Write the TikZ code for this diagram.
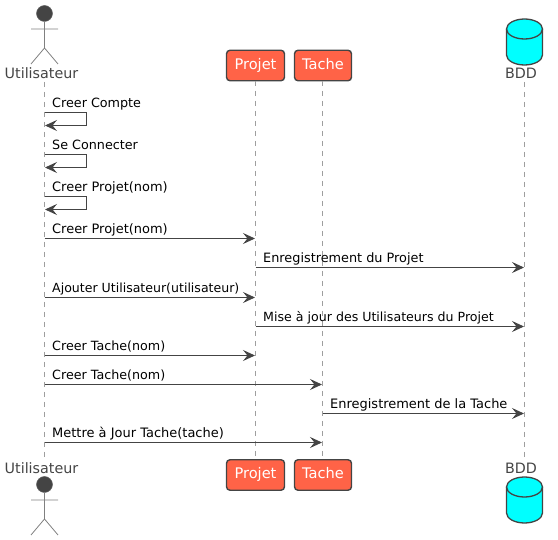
\documentclass[tikz,border=0pt]{standalone}
\usepackage{fontspec}
\setmainfont{DejaVu Sans}
\usetikzlibrary{arrows.meta}
\definecolor{ink}{HTML}{444444}
\definecolor{tomatofill}{HTML}{FF6347}
\definecolor{dbfill}{HTML}{00FFFF}
\tikzset{
  lifeline/.style={draw=black!38, line width=0.9pt, dash pattern=on 5pt off 5pt},
  partbox/.style={draw=ink, line width=1.4pt, fill=tomatofill, rounded corners=3.5pt, text=white, minimum height=30.5pt, inner sep=0pt, text height=10.5pt, text depth=3pt, font=\fontsize{14.6}{16}\selectfont},
  partlabel/.style={text=ink, inner sep=0pt, font=\fontsize{14.3}{16}\selectfont},
  msg/.style={draw=ink, line width=1pt, shorten >=0.5pt, -{Stealth[length=12pt,width=11pt,inset=4.5pt]}},
  msglabel/.style={text=black, inner sep=0pt, anchor=base west},
  stick/.style={draw=black!50, line width=0.8pt},
  actorhead/.style={circle, draw=black!60, line width=0.5pt, fill=ink, minimum size=16pt, inner sep=0pt},
  dbline/.style={draw=ink, line width=1.3pt},
}
\newcommand{\dbcyl}[1]{%
  \path[fill=dbfill] (506.5,#1+10) arc[x radius=18,y radius=10,start angle=180,end angle=360] -- (542.5,#1+36) arc[x radius=18,y radius=10,start angle=0,end angle=180] -- cycle;
  \draw[dbline] (506.5,#1+10) arc[x radius=18,y radius=10,start angle=180,end angle=-180];
  \draw[dbline] (506.5,#1+10) -- (506.5,#1+36) arc[x radius=18,y radius=10,start angle=180,end angle=0] -- (542.5,#1+10);
}
\newcommand{\stickman}[1]{%
  \draw[stick] (31,#1+29) -- (58,#1+29) (44.5,#1+21) -- (44.5,#1+48) -- (31,#1+64) (44.5,#1+48) -- (58,#1+64);
}
\begin{document}
\begin{tikzpicture}[x=1pt,y=-1pt]
\useasboundingbox (0,0) rectangle (558,540);
% participants, top
\node[actorhead] (uhead) at (44.5,13.5) {};
\stickman{0}
\node[partlabel] (utop) at (41.5,73) {Utilisateur};
\node[partbox, minimum width=58pt] (ptop) at (255.5,65.5) {Projet};
\node[partbox, minimum width=57pt] (ttop) at (323,65.5) {Tache};
\dbcyl{19}
\node[partlabel] (dtop) at (521,73) {BDD};
% participants, bottom
\node[partlabel] (ubot) at (41.5,468) {Utilisateur};
\node[actorhead] (uheadb) at (44.5,484.5) {};
\stickman{471}
\node[partbox, minimum width=58pt] (pbot) at (255.5,475) {Projet};
\node[partbox, minimum width=57pt] (tbot) at (323,475) {Tache};
\node[partlabel] (dbot) at (521,468) {BDD};
\dbcyl{477}
% lifeline ends
\coordinate (ua) at (44.5,82);  \coordinate (ub) at (44.5,457);
\coordinate (pa) at (255.5,81); \coordinate (pb) at (255.5,459);
\coordinate (ta) at (322.5,81); \coordinate (tb) at (322.5,459);
\coordinate (da) at (524.5,82); \coordinate (db) at (524.5,457);
\draw[lifeline] (ua) -- (ub);
\draw[lifeline] (pa) -- (pb);
\draw[lifeline] (ta) -- (tb);
\draw[lifeline] (da) -- (db);
% self messages
\foreach \n/\ya/\yb/\fs/\txt in {a/112.5/125.5/12.75/Creer Compte, b/154.5/167.5/12.75/Se Connecter, c/196.5/209.5/12.95/Creer Projet(nom)}{
  \coordinate (s\n1) at (44.5,\ya);
  \coordinate (s\n2) at (86.5,\ya);
  \coordinate (s\n3) at (86.5,\yb);
  \coordinate (s\n4) at (44.5,\yb);
  \draw[msg] (s\n1) -- (s\n2) -- (s\n3) -- (s\n4);
  \node[msglabel, font=\fontsize{\fs}{15}\selectfont] (sl\n) at (52,\ya-5) {\txt};
}
% messages
\foreach \n/\xa/\xb/\y/\fs/\txt in {
  d/44.5/255.5/238.5/12.95/Creer Projet(nom),
  e/255.5/524.5/267.5/12.84/Enregistrement du Projet,
  f/44.5/255.5/297.5/12.55/Ajouter Utilisateur(utilisateur),
  g/255.5/524.5/326.5/12.6/Mise à jour des Utilisateurs du Projet,
  h/44.5/255.5/355.5/12.7/Creer Tache(nom),
  i/44.5/322.5/384.5/12.7/Creer Tache(nom),
  j/322.5/524.5/413.5/12.97/Enregistrement de la Tache,
  k/44.5/322.5/442.5/12.98/Mettre à Jour Tache(tache)}{
  \coordinate (m\n1) at (\xa,\y);
  \coordinate (m\n2) at (\xb,\y);
  \draw[msg] (m\n1) -- (m\n2);
  \node[msglabel, font=\fontsize{\fs}{15}\selectfont] (ml\n) at (\xa+7.5,\y-5) {\txt};
}
\end{tikzpicture}
\end{document}
